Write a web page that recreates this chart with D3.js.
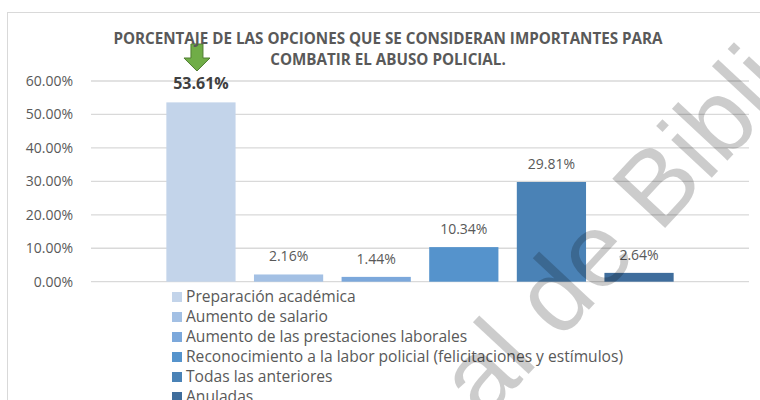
<!DOCTYPE html>
<html>
<head>
<meta charset="utf-8">
<script src="https://cdn.jsdelivr.net/npm/d3@7"></script>
<style>
  html, body { margin: 0; padding: 0; background: #fff; }
  svg { display: block; }
</style>
</head>
<body>
<div id="chart"></div>
<script>
// series names and values (one category, six series)
const series = [
    "Preparación académica",
    "Aumento de salario",
    "Aumento de las prestaciones laborales",
    "Reconocimiento a la labor policial (felicitaciones y estímulos)",
    "Todas las anteriores",
    "Anuladas"
];
const values = [53.61, 2.16, 1.44, 10.34, 29.81, 2.64];
const colors = ["#C3D4EA", "#A3C0E4", "#7CA8DB", "#5593CC", "#4A82B6", "#3F6D9C"];
const yTicks = [0, 10, 20, 30, 40, 50, 60];
const titleLines = [
    "PORCENTAJE DE LAS OPCIONES QUE SE CONSIDERAN IMPORTANTES PARA",
    "COMBATIR EL ABUSO POLICIAL."
];

const width = 760, height = 400;
const font = "'Open Sans', sans-serif";
const textColor = "#595959";

const svg = d3.select("#chart").append("svg")
    .attr("width", width)
    .attr("height", height);

// chart frame (runs past the picture on the right and bottom)
svg.append("rect")
    .attr("x", 7.5).attr("y", 12.5)
    .attr("width", 800).attr("height", 450)
    .attr("fill", "#fff")
    .attr("stroke", "#d9d9d9");

const x = d3.scaleBand()
    .domain(series)
    .range([91, 749])
    .paddingInner(0.21)
    .paddingOuter(0.86);

const y = d3.scaleLinear()
    .domain([0, 60])
    .range([281.7, 81]);

// gridlines
svg.append("g")
    .selectAll("line")
    .data(yTicks)
    .join("line")
    .attr("x1", 91).attr("x2", 749)
    .attr("y1", d => y(d)).attr("y2", d => y(d))
    .attr("stroke", "#d9d9d9")
    .attr("stroke-width", 1.3);

// y axis labels
const yAxis = svg.append("g")
    .attr("transform", "translate(80,0)")
    .call(d3.axisLeft(y).tickValues(yTicks).tickSize(0).tickPadding(7)
        .tickFormat(d => d3.format(".2f")(d) + "%"));
yAxis.select(".domain").remove();
yAxis.selectAll("text")
    .attr("font-family", font)
    .attr("font-size", 14)
    .attr("fill", textColor);

// bars
svg.append("g")
    .selectAll("rect")
    .data(values)
    .join("rect")
    .attr("x", (d, i) => x(series[i]))
    .attr("y", d => y(d))
    .attr("width", x.bandwidth())
    .attr("height", d => y(0) - y(d))
    .attr("fill", (d, i) => colors[i]);

// data labels
const maxVal = d3.max(values);
svg.append("g")
    .selectAll("text")
    .data(values)
    .join("text")
    .attr("x", (d, i) => x(series[i]) + x.bandwidth() / 2)
    .attr("y", d => y(d) - 13)
    .attr("text-anchor", "middle")
    .attr("font-family", font)
    .attr("font-size", d => d === maxVal ? 16 : 14)
    .attr("font-weight", d => d === maxVal ? "bold" : "normal")
    .attr("fill", d => d === maxVal ? "#404040" : textColor)
    .text(d => d3.format(".2f")(d) + "%");

// green arrow pointing at the biggest value
const iMax = values.indexOf(maxVal);
const ax = x(series[iMax]) + x.bandwidth() / 2 - 4;
const arrow = d3.path();
arrow.moveTo(ax - 6, 44);
arrow.lineTo(ax + 6, 44);
arrow.lineTo(ax + 6, 58);
arrow.lineTo(ax + 13, 58);
arrow.lineTo(ax, 71);
arrow.lineTo(ax - 13, 58);
arrow.lineTo(ax - 6, 58);
arrow.closePath();
svg.append("path")
    .attr("d", arrow.toString())
    .attr("fill", "#70AD47")
    .attr("stroke", "#507E32")
    .attr("stroke-width", 1);

// title
svg.append("text")
    .attr("x", 388)
    .attr("text-anchor", "middle")
    .attr("font-family", font)
    .attr("font-size", 15.2)
    .attr("font-weight", "bold")
    .attr("fill", textColor)
    .selectAll("tspan")
    .data(titleLines)
    .join("tspan")
    .attr("x", 388)
    .attr("y", (d, i) => 44 + i * 21)
    .text(d => d);

// legend
const legend = svg.append("g")
    .selectAll("g")
    .data(series)
    .join("g")
    .attr("transform", (d, i) => `translate(172,${292 + i * 20})`);
legend.append("rect")
    .attr("width", 10).attr("height", 10)
    .attr("fill", (d, i) => colors[i]);
legend.append("text")
    .attr("x", 14)
    .attr("y", 10)
    .attr("font-family", font)
    .attr("font-size", 15.6)
    .attr("fill", textColor)
    .text(d => d);

// watermark
svg.append("text")
    .attr("transform", "translate(484,422) rotate(-47)")
    .attr("font-family", "'Liberation Sans', Arial, sans-serif")
    .attr("font-size", 105)
    .attr("fill", "#000")
    .attr("fill-opacity", 0.2)
    .text("al de Bibli");
</script>
</body>
</html>
